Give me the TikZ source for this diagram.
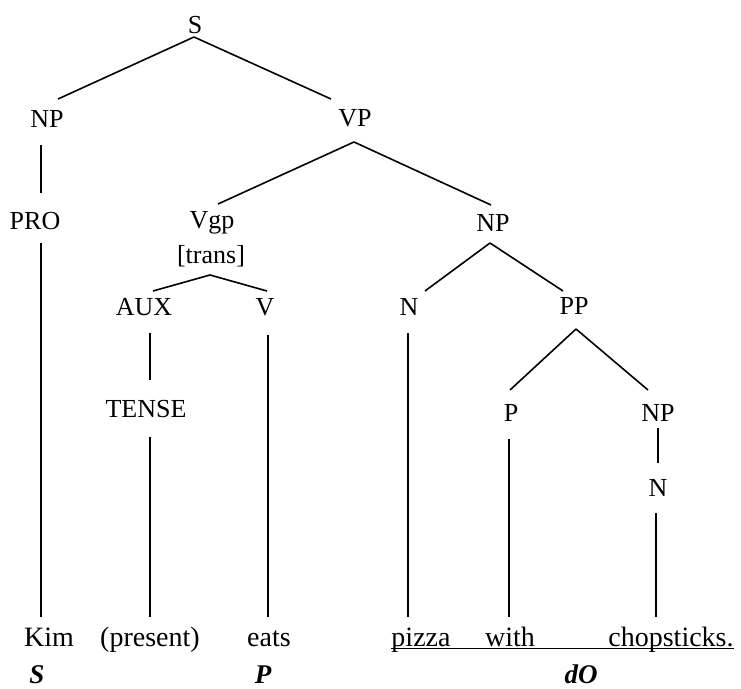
\documentclass[tikz,border=0pt]{standalone}
\usepackage{fontspec}
\setmainfont{Liberation Serif}
\begin{document}
\begin{tikzpicture}[x=1pt,y=-1pt,
  cat/.style={anchor=base,inner sep=0pt,font=\fontsize{26}{30}\selectfont},
  word/.style={anchor=base,inner sep=0pt,font=\fontsize{28}{32}\selectfont},
  func/.style={anchor=base,inner sep=0pt,font=\fontsize{27}{31}\selectfont\bfseries\itshape},
  branch/.style={line width=1.6pt}]
\useasboundingbox (0,0) rectangle (741,688);

% categories
\node[cat] (S)     at (195,33)  {S};
\node[cat] (NPa)   at (47,127)  {NP};
\node[cat] (VP)    at (355,126) {VP};
\node[cat] (PRO)   at (35,229)  {PRO};
\node[cat] (Vgp)   at (212,228) {Vgp};
\node[cat] (trans) at (211,263) {[trans]};
\node[cat] (AUX)   at (144,315) {AUX};
\node[cat] (V)     at (265,315) {V};
\node[cat] (NPb)   at (493,231) {NP};
\node[cat] (Na)    at (409,315) {N};
\node[cat] (PP)    at (574,314) {PP};
\node[cat] (TENSE) at (146,417) {TENSE};
\node[cat] (P)     at (511,421) {P};
\node[cat] (NPc)   at (658,421) {NP};
\node[cat] (Nb)    at (658,496) {N};

% words
\node[word] (kim)     at (49,646)  {Kim};
\node[word] (present) at (150,646) {(present)};
\node[word] (eats)    at (269,646) {eats};
\node[word] (pizza)   at (421,646) {pizza};
\node[word] (with)    at (510,646) {with};
\node[word] (chop)    at (671,646) {chopsticks.};

% grammatical functions
\node[func] (fS)  at (37,683)  {S};
\node[func] (fP)  at (263,683) {P};
\node[func] (fdO) at (581,683) {dO};

% branches
\draw[branch] ([shift={(-1,4)}]S.base) -- ([shift={(11,-28)}]NPa.base);
\draw[branch] ([shift={(-1,4)}]S.base) -- ([shift={(-24,-27)}]VP.base);
\draw[branch] ([shift={(-6,18)}]NPa.base) -- ([shift={(6,-36)}]PRO.base);
\draw[branch] ([shift={(-1,16)}]VP.base) -- ([shift={(6,-24)}]Vgp.base);
\draw[branch] ([shift={(-1,16)}]VP.base) -- ([shift={(-2,-26)}]NPb.base);
\draw[branch] ([shift={(-1,12)}]trans.base) -- ([shift={(9,-24)}]AUX.base);
\draw[branch] ([shift={(-1,12)}]trans.base) -- ([shift={(2,-24)}]V.base);
\draw[branch] ([shift={(-3,12)}]NPb.base) -- ([shift={(16,-24)}]Na.base);
\draw[branch] ([shift={(-3,12)}]NPb.base) -- ([shift={(-11,-23)}]PP.base);
\draw[branch] ([shift={(2,15)}]PP.base) -- ([shift={(-1,-31)}]P.base);
\draw[branch] ([shift={(2,15)}]PP.base) -- ([shift={(-10,-31)}]NPc.base);
\draw[branch] ([shift={(6,18)}]AUX.base) -- ([shift={(4,-37)}]TENSE.base);
\draw[branch] ([shift={(0,7)}]NPc.base) -- ([shift={(0,-33)}]Nb.base);

% lexical attachments
\draw[branch] ([shift={(6,14)}]PRO.base) -- ([shift={(-8,-29)}]kim.base);
\draw[branch] ([shift={(4,20)}]TENSE.base) -- ([shift={(0,-29)}]present.base);
\draw[branch] ([shift={(3,20)}]V.base) -- ([shift={(-1,-29)}]eats.base);
\draw[branch] ([shift={(-1,18)}]Na.base) -- ([shift={(-13,-29)}]pizza.base);
\draw[branch] ([shift={(-2,18)}]P.base) -- ([shift={(-1,-29)}]with.base);
\draw[branch] ([shift={(-2,17)}]Nb.base) -- ([shift={(-15,-29)}]chop.base);

% underline of the object phrase
\draw[line width=1.6pt] ([yshift=-2.5pt]pizza.base west) -- ([yshift=-2.5pt]chop.base east);
\end{tikzpicture}
\end{document}
